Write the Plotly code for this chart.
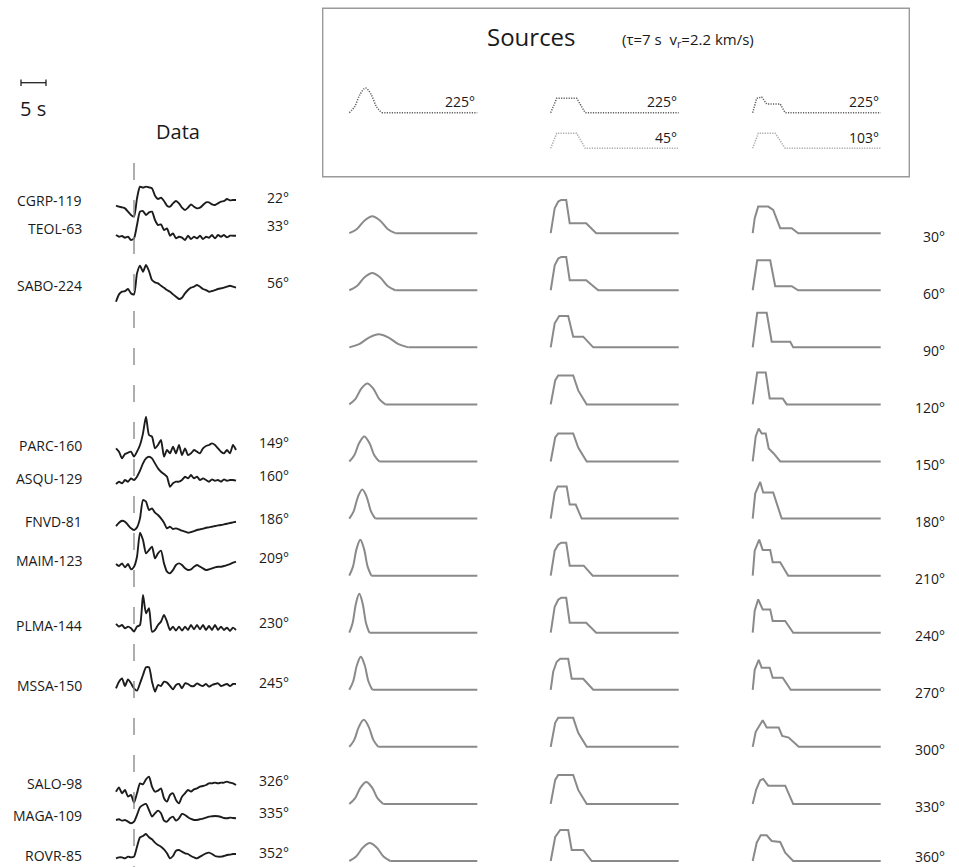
import plotly.graph_objects as go

W, H = 959, 867
PX_PER_S = 5.0          # horizontal time scale (pixels per second)
FONT = "Open Sans"

# ---------------- recorded seismograms ----------------
STATIONS = ["CGRP-119", "TEOL-63", "SABO-224", "PARC-160", "ASQU-129", "FNVD-81",
            "MAIM-123", "PLMA-144", "MSSA-150", "SALO-98", "MAGA-109", "ROVR-85"]
STATION_AZ = [22, 33, 56, 149, 160, 186, 209, 230, 245, 326, 335, 352]
DATA_T0 = -3.6   # time of first sample relative to P arrival (s)
DATA_DT = 0.6    # sample interval (s)

cgrp = [-17, -20, -22, -25, -35, -45, -50, 5, 40, 37, 40, 38, 35, 13, 3, 7, -3, -17, -20, -10, -3,
        -10, -23, -30, -23, -13, -20, -25, -23, -15, -7, -7, -13, -15, -10, -5, -3, 3, -1, 0, 0]
teol = [2, -3, -1, -6, -3, -13, -8, 32, 72, 74, 62, 70, 72, 47, 32, 34, 17, 22, 0, 7, -8,
        -3, -6, -13, 0, -10, -3, -8, 0, -10, -3, -6, 2, -8, 2, -3, 2, -5, 0, 0, 0]
sabo = [-42, -20, -12, -10, -4, -17, -20, 43, 66, 48, 68, 50, 23, 16, 13, 6, 0, -7, -12, -20, -27,
        -34, -30, -17, -7, 0, 3, 8, 3, -4, -7, -12, -10, -7, -4, -2, 0, 3, 6, 3, 0]
parc = [5, -5, -25, -12, -8, -5, -20, -5, 15, 50, 100, 45, 40, 5, 15, 30, -20, 0, -10, 10, -10,
        15, -15, 5, -15, -10, 0, -5, -10, 5, 12, 15, 20, 15, 5, -5, -10, 0, -10, 15, 0]
asqu = [-10, -3, -8, 2, -3, 7, 2, 12, 30, 52, 67, 72, 67, 52, 37, 27, 20, 12, -18, -8, -3,
        -3, 2, 12, 7, 17, 7, 12, 2, 7, 2, -3, 4, 0, 2, -3, 4, 0, 2, 2, 0]
fnvd = [-13, -3, 3, 0, -10, -20, -25, -17, 10, 65, 60, 35, 40, 27, 20, 10, -3, -20, -15, -22, -20,
        -23, -27, -30, -33, -31, -28, -25, -23, -21, -18, -17, -15, -13, -11, -10, -8, -6, -4, -2, 0]
maim = [-7, -13, -5, -17, -7, -23, -15, 15, 87, 65, 25, 35, 45, 10, 25, 33, -5, -30, -35, -25, -10,
        -5, -10, -20, -25, -23, -15, -10, -15, -20, -25, -23, -20, -17, -15, -15, -13, -10, -7, -3, 0]
plma = [13, 5, 10, 0, 5, 0, -10, 5, 10, 100, 45, 60, -10, -5, 10, 20, 40, 20, -5, 5, -7,
        5, -7, 5, -5, 10, -3, 10, -3, 10, -5, 7, -5, 10, -5, 5, -5, 2, -8, 2, -5]
mssa = [-13, 7, 17, -6, 14, 2, -13, -20, 2, 27, 50, 50, 7, -23, -3, -6, 7, 4, -6, -16, -3,
        0, -13, 2, 0, -6, -6, 2, -3, -6, 0, -8, -3, 0, 2, -6, -3, 0, -6, 0, 0]
salo = [-20, -7, -25, -15, -35, -30, -53, -25, 5, 2, 17, 25, -5, -20, -17, -10, -40, -50, -30, -25, -45,
        -55, -35, -25, -15, -20, -13, -10, -5, -3, 0, 5, 5, 7, 5, 7, 7, 10, 7, 5, 0]
maga = [-5, -3, -7, -5, -10, -15, -10, 10, 33, 40, 43, 25, 5, 15, 23, 15, -7, -10, 0, 5, -7,
        0, 13, 10, 3, -2, -5, -5, -3, -1, 2, 5, 6, 7, 6, 4, 1, 0, 2, 1, 0]
rovr = [-13, -10, -10, -13, -8, -10, -8, 22, 50, 54, 60, 50, 44, 34, 27, 22, 14, 2, -13, -6, 10,
        12, 7, 2, 0, -6, -10, -13, -8, -3, 2, 4, 0, -6, -8, -8, -6, -3, -2, 0, 0]
DATA_TRACES = [cgrp, teol, sabo, parc, asqu, fnvd, maim, plma, mssa, salo, maga, rovr]

# ---------------- apparent source time functions ----------------
SOURCE_AZ = [30, 60, 90, 120, 150, 180, 210, 240, 270, 300, 330, 360]
STF_LEN = 25.6   # plotted length of every source trace (s)

# single smooth pulse: duration (s) and peak amplitude per azimuth
stf1_dur = [9.2, 9.2, 11.8, 7.2, 6.0, 5.2, 4.4, 4.0, 4.6, 5.8, 6.8, 8.2]
stf1_peak = [17, 17.3, 13, 21, 25, 29, 36, 39, 33, 27, 22, 18]
# pulse outline, as fraction of duration / fraction of peak
PULSE_F = [0, 1 / 6, 1 / 3, 1 / 2, 2 / 3, 5 / 6, 1]
PULSE_S = [0, 0.25, 0.75, 1, 0.75, 0.25, 0]

# two-patch source: vertices (time s, amplitude)
stf2_t = [
    [0, 0.8, 1.5, 2.1, 3.1, 3.8, 7.1, 9.1],
    [0, 0.8, 1.5, 2.1, 3.1, 3.8, 7.1, 9.5],
    [0, 0.8, 1.7, 3.5, 4.5, 6.5, 8.5],
    [0, 0.9, 1.5, 4.5, 5.5, 7.2],
    [0, 0.9, 1.5, 4.5, 5.5, 7.2],
    [0, 0.8, 1.4, 3.2, 3.8, 5.0, 6.2],
    [0, 0.8, 1.5, 2.1, 3.1, 3.8, 6.6, 8.4],
    [0, 0.8, 1.5, 2.1, 3.1, 3.8, 7.1, 9.1],
    [0, 0.5, 1.2, 1.9, 3.5, 4.2, 6.5, 8.5],
    [0, 0.9, 1.5, 4.5, 5.5, 7.2],
    [0, 0.9, 1.5, 4.5, 5.5, 7.2],
    [0, 0.9, 1.9, 3.5, 4.2, 6.5, 8.2],
]
stf2_a = [
    [0, 25, 31.7, 33.3, 33.3, 10, 10, 0],
    [0, 25, 31.7, 33.3, 33.3, 10, 10, 0],
    [0, 24, 31.3, 31.3, 10.7, 10.7, 0],
    [0, 24, 29, 29, 14, 0],
    [0, 24, 28, 28, 14, 0],
    [0, 26, 32, 32, 14, 14, 0],
    [0, 25, 31, 33, 33, 10, 10, 0],
    [0, 26, 33, 35, 35, 10, 10, 0],
    [0, 18, 28, 31, 31, 11, 11, 0],
    [0, 24, 29, 29, 14, 0],
    [0, 24, 29, 29, 14, 0],
    [0, 24, 31, 31, 11, 11, 0],
]

# three-patch source: vertices (time s, amplitude)
stf3_t = [
    [0, 0.4, 1.1, 3.1, 4.1, 5.5, 7.8, 9.1],
    [0, 0.9, 3.5, 4.5, 7.8, 9.1],
    [0, 0.9, 2.8, 3.8, 7.5, 8.1],
    [0, 0.9, 2.6, 3.4, 6.0, 6.8],
    [0, 0.6, 1.2, 1.8, 2.6, 3.2, 4.2, 5.5],
    [0, 0.5, 1.5, 2.1, 4.1, 5.8],
    [0, 0.4, 1.3, 2.0, 3.5, 4.0, 5.5, 7.1],
    [0, 0.4, 1.1, 2.0, 3.5, 4.0, 6.5, 8.1],
    [0, 0.4, 1.2, 1.8, 3.4, 4.0, 6.0, 7.6],
    [0, 0.6, 2.0, 2.8, 5.2, 5.9, 7.2, 9.2],
    [0, 0.7, 1.5, 2.1, 3.1, 6.5, 8.1],
    [0, 0.8, 1.6, 2.8, 3.8, 5.5, 6.5, 7.5, 8.1],
]
stf3_a = [
    [0, 15, 26.6, 26.6, 23.3, 5, 5, 0],
    [0, 30, 30, 4, 4, 0],
    [0, 34.6, 34.6, 5.6, 5.6, 0],
    [0, 32, 32, 6, 6, 0],
    [0, 25, 33, 28, 28, 13, 8, 0],
    [0, 25, 36.6, 26, 26, 0],
    [0, 25, 36, 25.7, 25.7, 13.4, 13.4, 0],
    [0, 22, 33.3, 23.3, 23.3, 11.7, 11.7, 0],
    [0, 20, 30, 22, 22, 12, 12, 0],
    [0, 15, 26.7, 19.3, 19.3, 11, 9.3, 0],
    [0, 14.3, 23.7, 25, 18.3, 18.3, 0],
    [0, 18.3, 25.7, 25.7, 20, 19, 8.3, 3.3, 0],
]

# source models shown in the box
MODEL1_DUR, MODEL1_PEAK = 6.5, 24.7          # single pulse, rupture towards 225°
MODEL_DIR = ["225°", "225°", "45°", "225°", "103°"]
model_t = [None,
           [0, 1.2, 5.2, 6.9],
           [0, 1.2, 5.2, 6.9],
           [0, 0.8, 1.8, 2.8, 5.5, 6.5],
           [0, 1.1, 4.5, 6.5]]
model_a = [None,
           [0, 14.4, 14.4, 0],
           [0, 15, 15, 0],
           [0, 14.4, 15.7, 8.7, 8.7, 0],
           [0, 15, 15, 0]]

# ---------------- layout ----------------
DATA_BASE_Y = [200, 235.7, 287.7, 450, 480.7, 521.7, 561.7, 628.3, 684, 785, 818.3, 854]
DATA_LABEL_Y = [200, 228, 285, 445, 478, 521, 560, 625, 685, 783, 815, 855]
GAIN = 1 / 3.0
MODEL_COL = [0, 1, 1, 2, 2]
MODEL_BASE_Y = [112.7, 112.7, 148.3, 112.7, 148.3]
MODEL_COLOR = ["#5e5e5e", "#5e5e5e", "#a8a8a8", "#5e5e5e", "#a8a8a8"]
MODEL_DASH = "1.2px,1.3px"


def src_base(az):
    return 233.2 + (az - 30) * (861.0 - 233.2) / 330.0


def px(x):
    return x / W


# column layout: axis name, pixel domain, pixel of t = 0
COLS = [("x2", 330, 500, 349.3), ("x3", 530, 700, 550.7), ("x4", 735, 905, 752.7)]

fig = go.Figure()
SRC_COLOR = "#8a8a8a"
DATA_COLOR = "#1c1c1c"

# recorded data
for base, amps in zip(DATA_BASE_Y, DATA_TRACES):
    t = [DATA_T0 + DATA_DT * k for k in range(len(amps))]
    y = [base - GAIN * a for a in amps]
    fig.add_trace(go.Scatter(x=t, y=y, xaxis="x", yaxis="y", mode="lines",
                             line=dict(color=DATA_COLOR, width=1.9, shape="spline", smoothing=0.6),
                             hoverinfo="skip", showlegend=False))

# P arrival marker
fig.add_trace(go.Scatter(x=[0, 0], y=[163, 867], xaxis="x", yaxis="y", mode="lines",
                         line=dict(color="#8c8c8c", width=1.4, dash="17px,20px"),
                         hoverinfo="skip", showlegend=False))

# 5 s scale bar
SCALE_S = 5
SCALE_T0 = -22.6
fig.add_trace(go.Scatter(x=[SCALE_T0, SCALE_T0, None, SCALE_T0, SCALE_T0 + SCALE_S, None,
                            SCALE_T0 + SCALE_S, SCALE_T0 + SCALE_S],
                         y=[79.5, 86, None, 82.7, 82.7, None, 79.5, 86], xaxis="x", yaxis="y",
                         mode="lines", line=dict(color="#222", width=1.3),
                         hoverinfo="skip", showlegend=False))


def seg(axis, t, a, base, line):
    fig.add_trace(go.Scatter(x=list(t), y=[base - v for v in a], xaxis=axis, yaxis="y",
                             mode="lines", line=line, hoverinfo="skip", showlegend=False))


def add_src(axis, t, a, base, color=SRC_COLOR, dash=None, width=2.0):
    line = dict(color=color, width=width)
    if dash:
        line["dash"] = dash
    seg(axis, list(t) + [STF_LEN], list(a) + [0], base, line)


def add_pulse(axis, dur, peak, base, color=SRC_COLOR, dash=None, width=2.0):
    line = dict(color=color, width=width, shape="spline", smoothing=1.0)
    if dash:
        line["dash"] = dash
    seg(axis, [f * dur for f in PULSE_F], [s * peak for s in PULSE_S], base, line)
    flat = dict(color=color, width=width)
    if dash:
        flat["dash"] = dash
    seg(axis, [dur, STF_LEN], [0, 0], base, flat)


for i, az in enumerate(SOURCE_AZ):
    b = src_base(az)
    add_pulse("x2", stf1_dur[i], stf1_peak[i], b)
    add_src("x3", stf2_t[i], stf2_a[i], b)
    add_src("x4", stf3_t[i], stf3_a[i], b)

add_pulse("x2", MODEL1_DUR, MODEL1_PEAK, MODEL_BASE_Y[0], color=MODEL_COLOR[0],
          dash=MODEL_DASH, width=1.5)
for j in range(1, len(MODEL_DIR)):
    ax = COLS[MODEL_COL[j]][0]
    add_src(ax, model_t[j], model_a[j], MODEL_BASE_Y[j], color=MODEL_COLOR[j],
            dash=MODEL_DASH, width=1.5)

# axes
layout_axes = {}
layout_axes["xaxis"] = dict(domain=[0, px(300)], range=[-134 / PX_PER_S, (300 - 134) / PX_PER_S],
                            visible=False, fixedrange=True, anchor="y")
for k, (name, a0, a1, origin) in enumerate(COLS):
    layout_axes["xaxis%d" % (k + 2)] = dict(
        domain=[px(a0), px(a1)],
        range=[(a0 - origin) / PX_PER_S, (a1 - origin) / PX_PER_S],
        visible=False, fixedrange=True, anchor="y")
layout_axes["yaxis"] = dict(domain=[0, 1], range=[H, 0], visible=False, fixedrange=True)

ann = []


def text(x, y, s, size=14, xanchor="center", color="#1a1a1a"):
    ann.append(dict(x=px(x), y=y, xref="paper", yref="y", text=s, showarrow=False,
                    xanchor=xanchor, yanchor="middle", font=dict(family=FONT, size=size, color=color)))


for name, az, ly in zip(STATIONS, STATION_AZ, DATA_LABEL_Y):
    text(84, ly, name, xanchor="right")
    text(291, ly - 2.5, "%d°" % az, xanchor="right")

for az in SOURCE_AZ:
    text(947, min(src_base(az) + 3, 856), "%d°" % az, xanchor="right")

text(177.5, 131, "Data", size=20)
text(33, 108, "5 s", size=20)
text(531, 36, "Sources", size=24)
text(620, 40, "(τ=7 s  v<sub>r</sub>=2.2 km/s)", size=15, xanchor="left")

MODEL_LABEL_X = [477, 679, 679, 881, 881]
MODEL_LABEL_Y = [101, 101, 137, 101, 137]
for s, lx, ly in zip(MODEL_DIR, MODEL_LABEL_X, MODEL_LABEL_Y):
    text(lx, ly, s, xanchor="right")

fig.update_layout(
    width=W, height=H, margin=dict(l=0, r=0, t=0, b=0),
    paper_bgcolor="white", plot_bgcolor="white", showlegend=False,
    annotations=ann,
    shapes=[dict(type="rect", xref="paper", yref="y", x0=px(322.7), x1=px(909.3), y0=8.3, y1=176.7,
                 line=dict(color="#9a9a9a", width=1.4))],
    **layout_axes,
)

fig.write_html("out.html")
